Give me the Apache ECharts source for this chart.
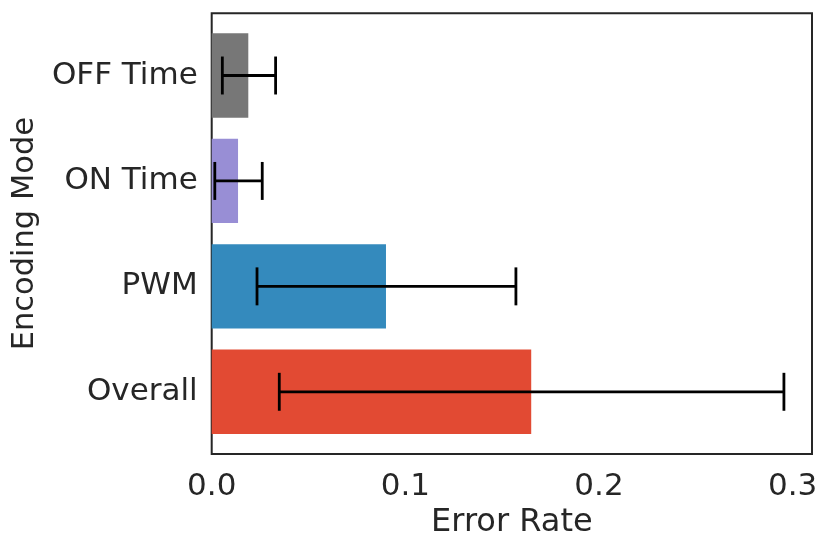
<!DOCTYPE html>
<html>
<head>
<meta charset="utf-8">
<script src="https://cdn.jsdelivr.net/npm/echarts@6/dist/echarts.min.js"></script>
<style>html,body{margin:0;padding:0;background:#fff}#c{width:830px;height:550px}</style>
</head>
<body>
<div id="c"></div>
<script>
// Data (top-to-bottom order)
var categories = ['OFF Time', 'ON Time', 'PWM', 'Overall'];
var errorRate = [0.0189, 0.0136, 0.0900, 0.1650];
var errLow = [0.0055, 0.0016, 0.0234, 0.0349];
var errHigh = [0.0330, 0.0261, 0.1571, 0.2955];
var xTickValues = [0, 0.1, 0.2, 0.3];

var barColors = ['#777777', '#988ED5', '#348ABD', '#E24A33'];
var textColor = '#262626';
var fontFamily = 'DejaVu Sans';

var barData = categories.map(function (c, i) { return [i, errorRate[i]]; });
var errData = categories.map(function (c, i) { return [i, errLow[i], errHigh[i]]; });

var chart = echarts.init(document.getElementById('c'), null, { renderer: 'canvas' });
chart.setOption({
  backgroundColor: '#ffffff',
  animation: false,
  grid: {
    left: 211.7, right: 18, top: 13.3, bottom: 96,
    show: true, borderColor: '#262626', borderWidth: 2, backgroundColor: 'transparent'
  },
  xAxis: {
    type: 'value',
    min: 0, max: 0.31,
    name: 'Error Rate',
    nameLocation: 'middle',
    nameGap: 47,
    nameTextStyle: { color: textColor, fontSize: 32, fontFamily: fontFamily },
    axisLine: { show: false },
    axisTick: { show: false },
    splitLine: { show: false },
    axisLabel: {
      customValues: xTickValues,
      color: textColor, fontSize: 31, fontFamily: fontFamily, margin: 17,
      formatter: function (v) { return v.toFixed(1); }
    }
  },
  yAxis: {
    type: 'value',
    inverse: true,
    min: -0.59, max: 3.59,
    name: 'Encoding Mode',
    nameLocation: 'middle',
    nameRotate: 90,
    nameGap: 166,
    nameTextStyle: { color: textColor, fontSize: 30.5, fontFamily: fontFamily },
    axisLine: { show: false },
    axisTick: { show: false },
    splitLine: { show: false },
    axisLabel: {
      customValues: categories.map(function (c, i) { return i; }),
      color: textColor, fontSize: 31, fontFamily: fontFamily, margin: 14,
      formatter: function (v) { return categories[Math.round(v)] || ''; }
    }
  },
  series: [
    {
      type: 'custom',
      name: 'bars',
      data: barData,
      encode: { x: 1, y: 0 },
      renderItem: function (params, api) {
        var i = api.value(0);
        var v = api.value(1);
        var p0 = api.coord([0, i]);
        var p1 = api.coord([v, i]);
        var h = api.size([0, 0.8])[1];
        return {
          type: 'rect',
          shape: { x: p0[0], y: p0[1] - h / 2, width: p1[0] - p0[0], height: h },
          style: { fill: barColors[i] }
        };
      }
    },
    {
      type: 'custom',
      name: 'errors',
      data: errData,
      encode: { x: [1, 2], y: 0 },
      z: 5,
      renderItem: function (params, api) {
        var i = api.value(0);
        var a = api.coord([api.value(1), i]);
        var b = api.coord([api.value(2), i]);
        var ch = api.size([0, 0.18])[1];
        var st = { stroke: '#000000', lineWidth: 2.8 };
        return {
          type: 'group',
          children: [
            { type: 'line', shape: { x1: a[0], y1: a[1], x2: b[0], y2: b[1] }, style: st },
            { type: 'line', shape: { x1: a[0], y1: a[1] - ch, x2: a[0], y2: a[1] + ch }, style: st },
            { type: 'line', shape: { x1: b[0], y1: b[1] - ch, x2: b[0], y2: b[1] + ch }, style: st }
          ]
        };
      }
    }
  ]
});
</script>
</body>
</html>
